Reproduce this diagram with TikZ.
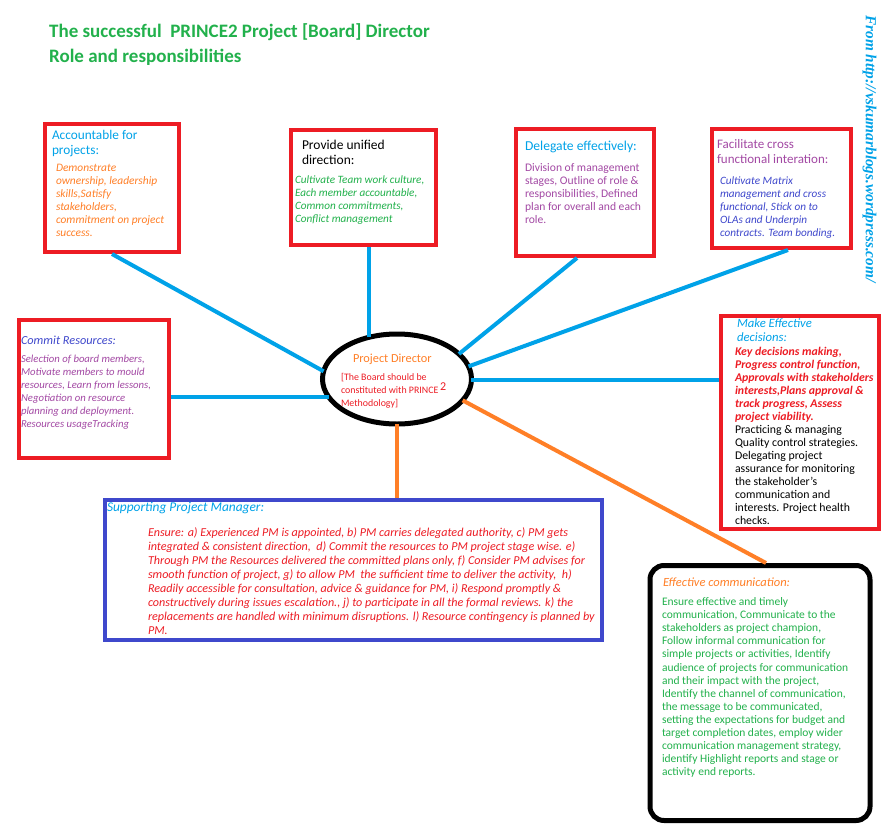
\documentclass[tikz,border=0pt]{standalone}
\usepackage{fontspec}
\setmainfont{Carlito}
\newfontfamily\urlfont{Liberation Serif}
\usetikzlibrary{shapes.geometric}

\definecolor{pmred}{HTML}{ED1C24}
\definecolor{pmsky}{HTML}{00A2E8}
\definecolor{pmindigo}{HTML}{3F48CC}
\definecolor{pmpurple}{HTML}{A349A4}
\definecolor{pmorange}{HTML}{FF7F27}
\definecolor{pmgreen}{HTML}{22B14C}

\newcommand{\sz}[2]{\fontsize{#1}{#2}\selectfont}
% width, height, top gap, content
\newcommand{\panel}[4]{\parbox[c][#2][t]{#1}{\vspace*{#3}\raggedright\rightskip=0pt plus 1fil minus 40pt #4}}

\begin{document}
\begin{tikzpicture}[x=1pt,y=-1pt]
	\tikzstyle{panel}    = [draw=pmred, fill=white, line width=4pt, inner sep=0pt, outer sep=2pt, anchor=north west]
	\tikzstyle{roundbox} = [panel, draw=black, line width=5pt, outer sep=2.5pt, rounded corners=14pt]
	\tikzstyle{director} = [ellipse, draw=black, fill=white, line width=5pt, minimum width=149pt, minimum height=90pt, inner sep=0pt, outer sep=0pt]
	\tikzstyle{link}     = [draw=pmsky, line width=4pt]
	\tikzstyle{warm}     = [draw=pmorange, line width=4pt]

	\fill[white] (0,0) rectangle (891,838);
	\useasboundingbox (0,0) rectangle (891,838);

	\node[anchor=north west, inner sep=0pt, align=left, text=pmgreen, font=\sz{19}{25}\bfseries] (title) at (49,23.3)
		{The successful~~PRINCE2 Project [Board] Director\\Role and responsibilities};
	\node[anchor=west, rotate=-90, inner sep=0pt, text=pmsky, font=\urlfont\sz{15.3}{15}\bfseries\itshape] (source) at (869.5,15)
		{From http://vskumarblogs.wordpress.com/};

	\node[director] (pd) at (397,379) {\raisebox{-4.5pt}[0pt][0pt]{\parbox{104pt}{\raggedright\leftskip=-4pt
		{\sz{12.3}{13}\leftskip=8pt\color{pmorange}Project Director\par}\vspace{5pt}
		{\sz{9.9}{13}\color{pmred}[The Board should be\\constituted with PRINCE\,\raisebox{3pt}{\sz{12}{12}2}\\Methodology]\par}}}};

	\node[panel] (acc) at (43,122) {\panel{134pt}{128pt}{5.8pt}{%
		{\sz{13.3}{15}\leftskip=7pt\color{pmsky}Accountable for\\projects:\par}\vspace{4.5pt}
		{\sz{11.4}{13}\leftskip=11pt\itshape\color{pmorange}Demonstrate\\ownership, leadership\\skills,Satisfy\\stakeholders,\\commitment on project\\success.\par}}};
	\node[panel] (uni) at (289,128) {\panel{145pt}{115pt}{10.5pt}{%
		{\sz{13.5}{15}\leftskip=11pt Provide unified\\direction:\par}\vspace{5.5pt}
		{\sz{11.2}{13}\leftskip=4pt\itshape\color{pmgreen}Cultivate Team work culture,\\Each member accountable,\\Common commitments,\\Conflict management\par}}};
	\node[panel] (del) at (514,127) {\panel{138pt}{127pt}{12.3pt}{%
		{\sz{13.6}{15}\leftskip=9pt\color{pmsky}Delegate effectively:\par}\vspace{7.5pt}
		{\sz{11.6}{13}\leftskip=9pt\color{pmpurple}Division of management\\stages, Outline of role \&\\responsibilities, Defined\\plan for overall and each\\role.\par}}};
	\node[panel] (fac) at (710,127) {\panel{139pt}{119pt}{10.9pt}{%
		{\sz{13}{15}\leftskip=5pt\color{pmpurple}Facilitate cross\\functional interation:\par}\vspace{8pt}
		{\sz{11.2}{13}\leftskip=8pt\itshape\color{pmindigo}Cultivate Matrix\\management and cross\\functional, Stick on to\\OLAs and Underpin\\contracts. Team bonding.\par}}};
	\node[panel] (com) at (17,318) {\panel{150pt}{138pt}{16.5pt}{%
		{\sz{12.3}{15}\leftskip=2pt\itshape\color{pmindigo}Commit Resources:\par}\vspace{4.5pt}
		{\sz{10.7}{13}\leftskip=2pt\itshape\color{pmpurple}Selection of board members,\\Motivate members to mould\\resources, Learn from lessons,\\Negotiation on resource\\planning and deployment.\\Resources usageTracking\par}}};
	\node[panel] (dec) at (719,314) {\panel{158pt}{213pt}{3.1pt}{%
		{\sz{12.7}{14}\leftskip=16pt\itshape\color{pmsky}Make Effective\\decisions:\par}\vspace{1pt}
		{\sz{11.8}{13}\leftskip=14pt\bfseries\itshape\color{pmred}Key decisions making,\\Progress control function,\\Approvals with stakeholders\\interests,Plans approval \&\\track progress, Assess\\project viability.\par}
		{\sz{11.8}{13}\leftskip=14pt Practicing \& managing\\Quality control strategies.\\Delegating project\\assurance for monitoring\\the stakeholder's\\communication and\\interests. Project health\\checks.\par}}};
	\node[panel, draw=pmindigo] (spm) at (103,498) {\panel{497pt}{140pt}{2.7pt}{%
		{\sz{13.4}{15}\leftskip=2pt\itshape\color{pmsky}Supporting Project Manager:\par}\vspace{10.5pt}
		{\sz{12.1}{14}\leftskip=43pt\itshape\color{pmred}Ensure: a) Experienced PM is appointed, b) PM carries delegated authority, c) PM gets\\integrated \& consistent direction,~~d) Commit the resources to PM project stage wise. e)\\Through PM the Resources delivered the committed plans only, f) Consider PM advises for\\smooth function of project, g) to allow PM~~the sufficient time to deliver the activity,~~h)\\Readily accessible for consultation, advice \& guidance for PM, i) Respond promptly \&\\constructively during issues escalation., j) to participate in all the formal reviews. k) the\\replacements are handled with minimum disruptions. l) Resource contingency is planned by\\PM.\par}}};
	\node[roundbox] (comm) at (647.5,563) {\panel{220pt}{255pt}{11.9pt}{%
		{\sz{12.5}{15}\leftskip=13pt\itshape\color{pmorange}Effective communication:\par}\vspace{6.4pt}
		{\sz{11.5}{13.1}\leftskip=12pt\color{pmgreen}Ensure effective and timely\\communication, Communicate to the\\stakeholders as project champion,\\Follow informal communication for\\simple projects or activities, Identify\\audience of projects for communication\\and their impact with the project,\\Identify the channel of communication,\\the message to be communicated,\\setting the expectations for budget and\\target completion dates, employ wider\\communication management strategy,\\identify Highlight reports and stage or\\activity end reports.\par}}};

	\draw[link] (acc.south) -- (pd.174);
	\draw[link] (pd.124) -- (pd.124 |- uni.south);
	\draw[link] ([xshift=-8pt]del.south) -- (pd.22);
	\draw[link] ([xshift=6.5pt]fac.south) -- (pd.10);
	\draw[link] (pd.195) -- (com.east |- pd.195);
	\draw[link] (pd.-1) -- (dec.west |- pd.-1);
	\draw[warm] (pd.south) -- (pd.south |- spm.north);
	\draw[warm] (pd.-18) -- ([xshift=6pt]comm.north);
\end{tikzpicture}
\end{document}
